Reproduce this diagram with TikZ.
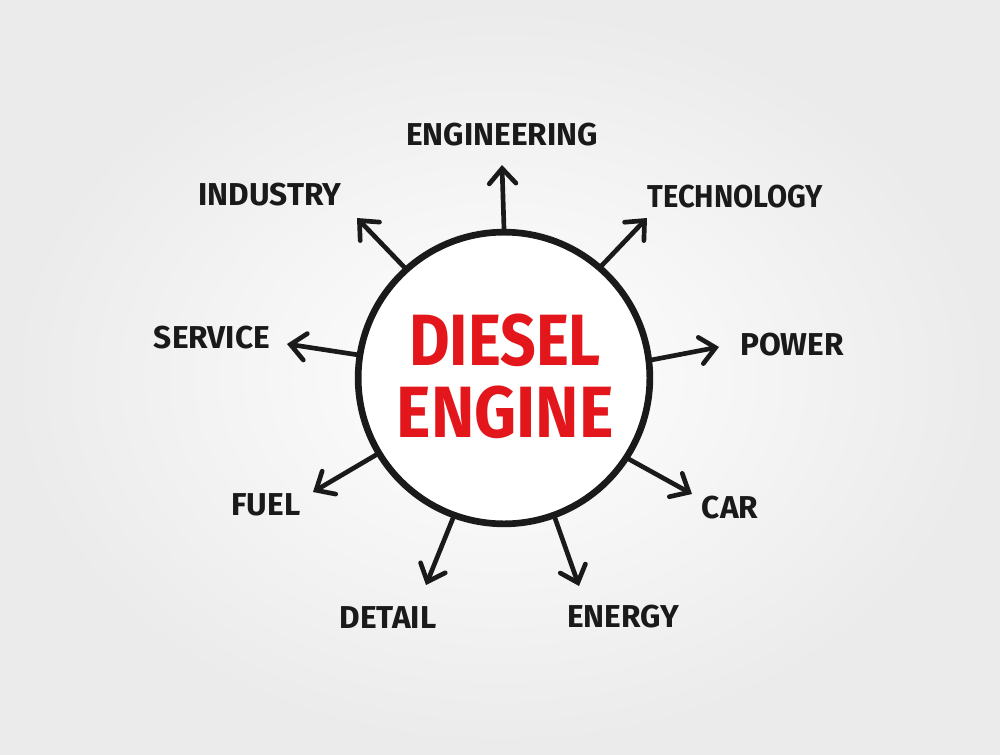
\documentclass[tikz,border=0pt]{standalone}
\usepackage{fontspec}
\setmainfont{Fira Sans}
\usetikzlibrary{arrows.meta}
\definecolor{ink}{HTML}{1A1A1A}
\definecolor{marker}{HTML}{E3161B}
\begin{document}
\begin{tikzpicture}[x=0.03cm,y=-0.03cm,
  lab/.style={font=\fontsize{27}{30}\selectfont\bfseries, text=ink, inner sep=0pt},
  ttl/.style={font=\fontsize{62}{66}\selectfont\bfseries, text=marker, inner sep=0pt},
  spoke/.style={draw=ink, line width=0.14cm, line cap=round, -{Straight Barb[length=0.45cm,width=0.8cm,line cap=round]}},
  hub/.style={circle, draw=ink, line width=0.2cm, minimum size=8.75cm, inner sep=0pt, fill=white}]
\useasboundingbox (0,0) rectangle (1000,755);
\shade[inner color=white, outer color=black!8] (0,0) rectangle (1000,755);

\node[hub] (hub) at (504,378) {};
\node[ttl] (t1) at (505,340) {\scalebox{0.86}[1]{DIESEL}};
\node[ttl] (t2) at (505,412) {\scalebox{0.9}[1]{ENGINE}};

\node[lab] (engineering) at (502,135) {ENGINEERING};
\node[lab] (industry) at (270,195) {INDUSTRY};
\node[lab] (technology) at (735,197) {\scalebox{0.92}[1]{TECHNOLOGY}};
\node[lab] (power) at (792,345) {POWER};
\node[lab] (service) at (212,338) {SERVICE};
\node[lab] (fuel) at (266,505) {FUEL};
\node[lab] (detail) at (388,618) {DETAIL};
\node[lab] (energy) at (623,617) {ENERGY};
\node[lab] (car) at (730,508) {CAR};

\coordinate (engT) at (502,165);
\coordinate (indT) at (357,218);
\coordinate (tecT) at (647,218);
\coordinate (powT) at (719,347);
\coordinate (serT) at (287,344);
\coordinate (fueT) at (313,492);
\coordinate (detT) at (426,585);
\coordinate (eneT) at (579,586);
\coordinate (carT) at (692,494);

\draw[spoke] (hub.90) -- (engT);
\draw[spoke] (hub.132.6) -- (indT);
\draw[spoke] (hub.49.5) -- (tecT);
\draw[spoke] (hub.7) -- (powT);
\draw[spoke] (hub.171.5) -- (serT);
\draw[spoke] (hub.211) -- (fueT);
\draw[spoke] (hub.250.6) -- (detT);
\draw[spoke] (hub.290) -- (eneT);
\draw[spoke] (hub.327) -- (carT);
\end{tikzpicture}
\end{document}
